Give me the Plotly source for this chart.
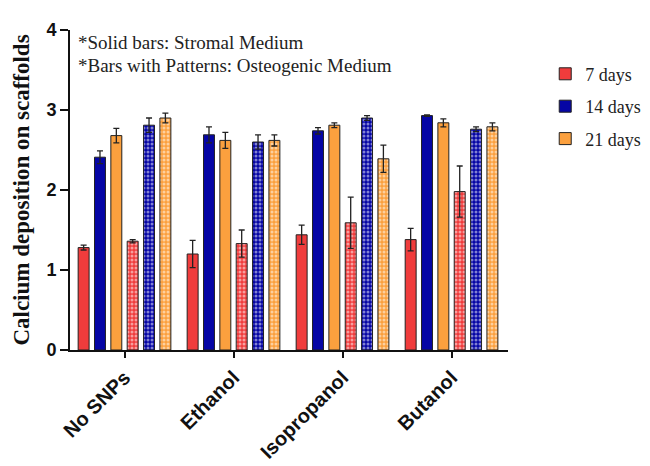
import plotly.graph_objects as go

categories = ["No SNPs", "Ethanol", "Isopropanol", "Butanol"]

# Stromal medium (solid bars)
stromal_7 = [1.28, 1.20, 1.44, 1.38]
stromal_7_err = [0.03, 0.17, 0.12, 0.14]
stromal_14 = [2.41, 2.69, 2.74, 2.93]
stromal_14_err = [0.08, 0.10, 0.04, 0.01]
stromal_21 = [2.68, 2.62, 2.81, 2.84]
stromal_21_err = [0.09, 0.10, 0.03, 0.05]

# Osteogenic medium (patterned bars)
osteo_7 = [1.36, 1.33, 1.59, 1.98]
osteo_7_err = [0.02, 0.17, 0.32, 0.32]
osteo_14 = [2.81, 2.60, 2.90, 2.76]
osteo_14_err = [0.09, 0.09, 0.03, 0.03]
osteo_21 = [2.90, 2.62, 2.39, 2.79]
osteo_21_err = [0.06, 0.07, 0.17, 0.05]

series_names = ["7 days", "14 days", "21 days"]
colors = ["#F03C3C", "#0505A5", "#FBA03E"]

fig = go.Figure()

solid = [(stromal_7, stromal_7_err), (stromal_14, stromal_14_err), (stromal_21, stromal_21_err)]
patt = [(osteo_7, osteo_7_err), (osteo_14, osteo_14_err), (osteo_21, osteo_21_err)]

for i, (vals, errs) in enumerate(solid):
    fig.add_trace(go.Bar(
        x=categories, y=vals, name=series_names[i], legendgroup=series_names[i],
        marker=dict(color=colors[i], line=dict(color="#222222", width=1)),
        error_y=dict(type="data", array=errs, color="#222222", thickness=1.3, width=3),
    ))
for i, (vals, errs) in enumerate(patt):
    fig.add_trace(go.Bar(
        x=categories, y=vals, name=series_names[i] + " (osteogenic)", showlegend=False,
        marker=dict(color=colors[i], line=dict(color="#222222", width=1),
                    pattern=dict(shape=".", fgcolor="white", bgcolor=colors[i],
                                 size=4, solidity=0.45, fillmode="overlay")),
        error_y=dict(type="data", array=errs, color="#222222", thickness=1.3, width=3),
    ))

fig.update_layout(
    width=650, height=466,
    paper_bgcolor="white", plot_bgcolor="white",
    margin=dict(l=60, r=148, t=16, b=124),
    barmode="group", bargap=0.1, bargroupgap=0.33,
    showlegend=True,
    legend=dict(x=1.085, y=0.92, xanchor="left", yanchor="top",
                font=dict(family="Liberation Serif", size=18, color="#222222"),
                tracegroupgap=6, bgcolor="rgba(0,0,0,0)"),
    annotations=[
        dict(text="*Solid bars: Stromal Medium", xref="paper", yref="paper",
             x=0.014, y=0.962, xanchor="left", yanchor="middle", showarrow=False,
             font=dict(family="Liberation Serif", size=19, color="#222222")),
        dict(text="*Bars with Patterns: Osteogenic Medium", xref="paper", yref="paper",
             x=0.014, y=0.89, xanchor="left", yanchor="middle", showarrow=False,
             font=dict(family="Liberation Serif", size=19, color="#222222")),
    ],
)

fig.update_xaxes(
    type="category", range=[-0.5, 3.518], automargin=False,
    showline=True, linecolor="#111111", linewidth=2,
    ticks="outside", ticklen=6, tickwidth=2, tickcolor="#111111",
    tickangle=-45,
    tickfont=dict(family="Liberation Sans", size=20, color="#111111", weight="bold"),
    showgrid=False,
)
fig.update_yaxes(
    range=[0, 4], tickvals=[0, 1, 2, 3, 4],
    showline=True, linecolor="#111111", linewidth=2,
    ticks="outside", ticklen=8, tickwidth=2, tickcolor="#111111",
    tickfont=dict(family="Liberation Sans", size=18, color="#111111", weight="bold"),
    showgrid=False, zeroline=False,
    title=dict(text="Calcium deposition on scaffolds", standoff=10,
               font=dict(family="Liberation Serif", size=23, color="#111111", weight="bold")),
)

fig.write_html("out.html")
